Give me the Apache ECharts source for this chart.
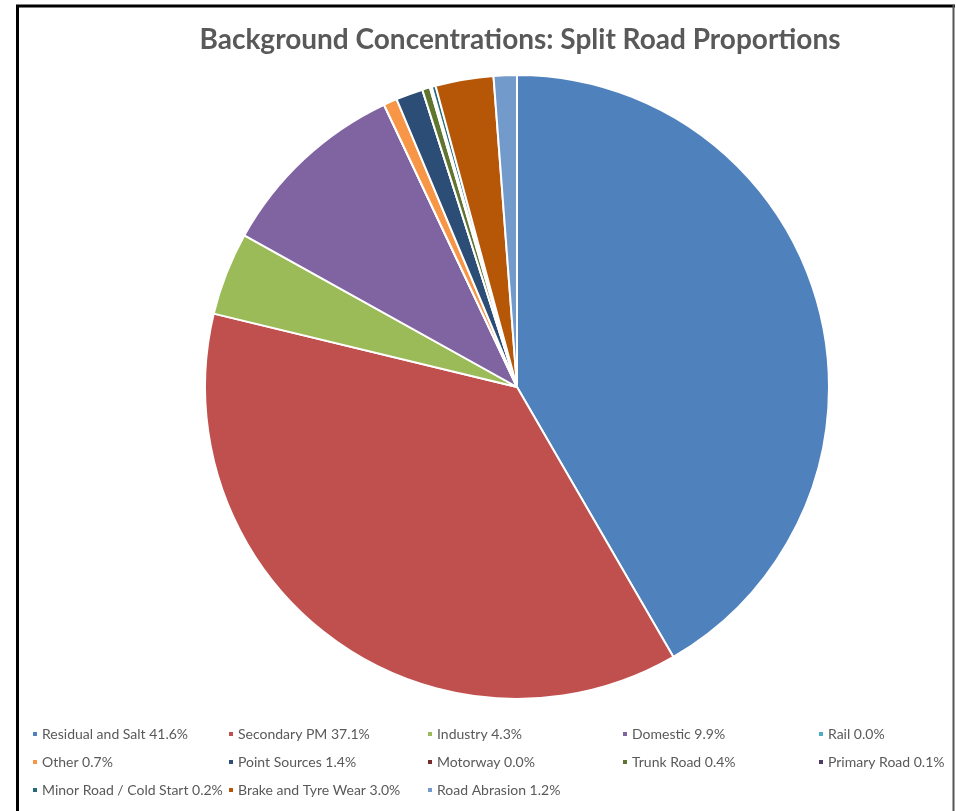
<!DOCTYPE html>
<html>
<head>
<meta charset="utf-8">
<script src="https://cdn.jsdelivr.net/npm/echarts@6/dist/echarts.min.js"></script>
<style>html,body{margin:0;padding:0;background:#fff}#c{width:956px;height:811px}</style>
</head>
<body>
<div id="c"></div>
<script>
const categories = ["Residual and Salt", "Secondary PM", "Industry", "Domestic", "Rail", "Other", "Point Sources", "Motorway", "Trunk Road", "Primary Road", "Minor Road / Cold Start", "Brake and Tyre Wear", "Road Abrasion"];
const values = [41.6, 37.1, 4.3, 9.9, 0.0, 0.7, 1.4, 0.0, 0.4, 0.1, 0.2, 3.0, 1.2];
const colors = ["#4F81BD", "#C0504D", "#9BBB59", "#8064A2", "#4BACC6", "#F79646", "#2C4D75", "#772C2A", "#5F7530", "#4D3B62", "#276A7C", "#B65708", "#729ACA"];
const titleText = "Background Concentrations: Split Road Proportions";

const pctMap = {};
categories.forEach((c, i) => { pctMap[c] = values[i].toFixed(1) + '%'; });

const colX = [26, 222, 421, 616, 812];
const columns = [[0, 5, 10], [1, 6, 11], [2, 7, 12], [3, 8], [4, 9]];
const legends = columns.map((idx, k) => ({
  orient: 'vertical',
  left: colX[k],
  top: 722,
  itemGap: 14,
  itemWidth: 6,
  itemHeight: 6,
  icon: 'rect',
  selectedMode: false,
  data: idx.map(i => categories[i]),
  formatter: n => n + ' ' + pctMap[n],
  textStyle: { fontFamily: 'Lato, "Open Sans", sans-serif', fontSize: 14, color: '#595959', padding: [0, 0, 0, -1] }
}));

const chart = echarts.init(document.getElementById('c'), null, { renderer: 'canvas' });
chart.setOption({
  animation: false,
  color: colors,
  title: {
    text: titleText,
    left: 515,
    textAlign: 'center',
    top: 21,
    textStyle: { fontFamily: 'Lato, "Open Sans", sans-serif', fontWeight: 'bold', fontSize: 28, color: '#595959' }
  },
  legend: legends,
  graphic: [
    { type: 'line', shape: { x1: 17.5, y1: 5, x2: 17.5, y2: 811 }, style: { stroke: '#000', lineWidth: 3 } },
    { type: 'line', shape: { x1: 16, y1: 6, x2: 955, y2: 6 }, style: { stroke: '#000', lineWidth: 3 } },
    { type: 'line', shape: { x1: 953.5, y1: 5, x2: 953.5, y2: 811 }, style: { stroke: '#555', lineWidth: 2 } }
  ],
  series: [{
    type: 'pie',
    center: [517, 387],
    radius: [0, 312],
    startAngle: 90,
    clockwise: true,
    label: { show: false },
    labelLine: { show: false },
    emphasis: { disabled: true },
    itemStyle: { borderColor: '#fff', borderWidth: 2 },
    data: categories.map((c, i) => ({ name: c, value: values[i] }))
  }]
});
</script>
</body>
</html>
